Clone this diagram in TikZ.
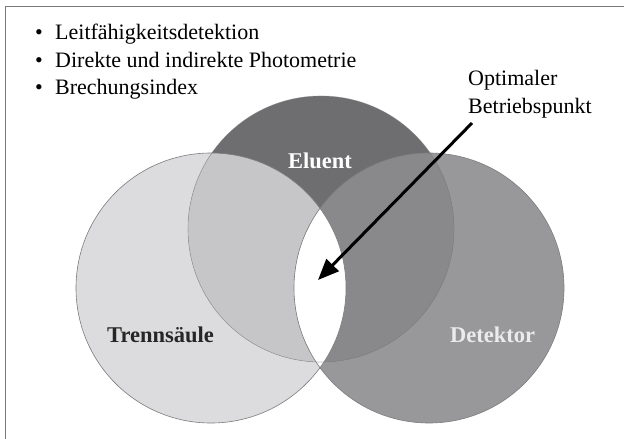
\documentclass[tikz,border=0pt]{standalone}
\usepackage{fontspec}
\setmainfont{Liberation Serif}
\usetikzlibrary{arrows.meta}
\definecolor{frameC}{HTML}{7A7A7A}
\definecolor{trennC}{HTML}{DCDCDE}
\definecolor{eluC}{HTML}{6E6E70}
\definecolor{detC}{HTML}{98989B}
\definecolor{trenneluC}{HTML}{C6C6C8}
\definecolor{detelu}{HTML}{89898C}
\definecolor{edgeC}{HTML}{7C7C7E}
\tikzset{
  txt/.style={inner sep=0pt, anchor=base west, font=\fontsize{22}{27}\selectfont},
  bul/.style={inner sep=0pt, anchor=base, font=\fontsize{22}{27}\selectfont},
  lab/.style={inner sep=0pt, anchor=base west, font=\fontsize{22.5}{27}\selectfont\bfseries},
  edge/.style={draw=edgeC, line width=0.6pt},
  pointer/.style={line width=3pt, -{Triangle[length=21pt,width=17pt]}}
}
\begin{document}
\begin{tikzpicture}[x=1pt,y=-1pt]
\useasboundingbox (0,0) rectangle (624,439);
\fill[white] (0,0) rectangle (624,439);
% frame
\draw[frameC, line width=1.6pt] (5.5,439) -- (5.5,6.5) -- (624,6.5);
% circles
\def\trenn{(211,288) circle[radius=135pt]}
\def\detek{(429,288) circle[radius=135pt]}
\def\elu{(321,229) circle[radius=133pt]}
\fill[trennC] \trenn;
\fill[detC] \detek;
\fill[eluC] \elu;
\begin{scope}
  \clip \elu;
  \fill[trenneluC] \trenn;
  \fill[detelu] \detek;
\end{scope}
\begin{scope}
  \clip \trenn;
  \fill[white] \detek;
\end{scope}
\draw[edge] \trenn;
\draw[edge] \detek;
\draw[edge, draw opacity=0.5] \elu;
% bullet list
\node[bul] (b1) at (39,39) {\textbullet};
\node[txt] (t1) at (55,39) {Leitfähigkeitsdetektion};
\node[bul] (b2) at (39,67) {\textbullet};
\node[txt] (t2) at (55,67) {Direkte und indirekte Photometrie};
\node[bul] (b3) at (39,94) {\textbullet};
\node[txt] (t3) at (55,94) {Brechungsindex};
% labels
\node[lab, anchor=base, text=white] (eluent) at (320,168) {Eluent};
\node[lab, text=black!85] (trenn) at (107,342) {Trennsäule};
\node[lab, text=white!92!black] (detektor) at (450,342) {Detektor};
\node[txt] (opt1) at (468,85) {Optimaler};
\node[txt] (opt2) at (468,113) {Betriebspunkt};
% arrow
\coordinate (astart) at (472,123);
\coordinate (atip) at (318,280);
\draw[pointer] (astart) -- (atip);
\end{tikzpicture}
\end{document}
